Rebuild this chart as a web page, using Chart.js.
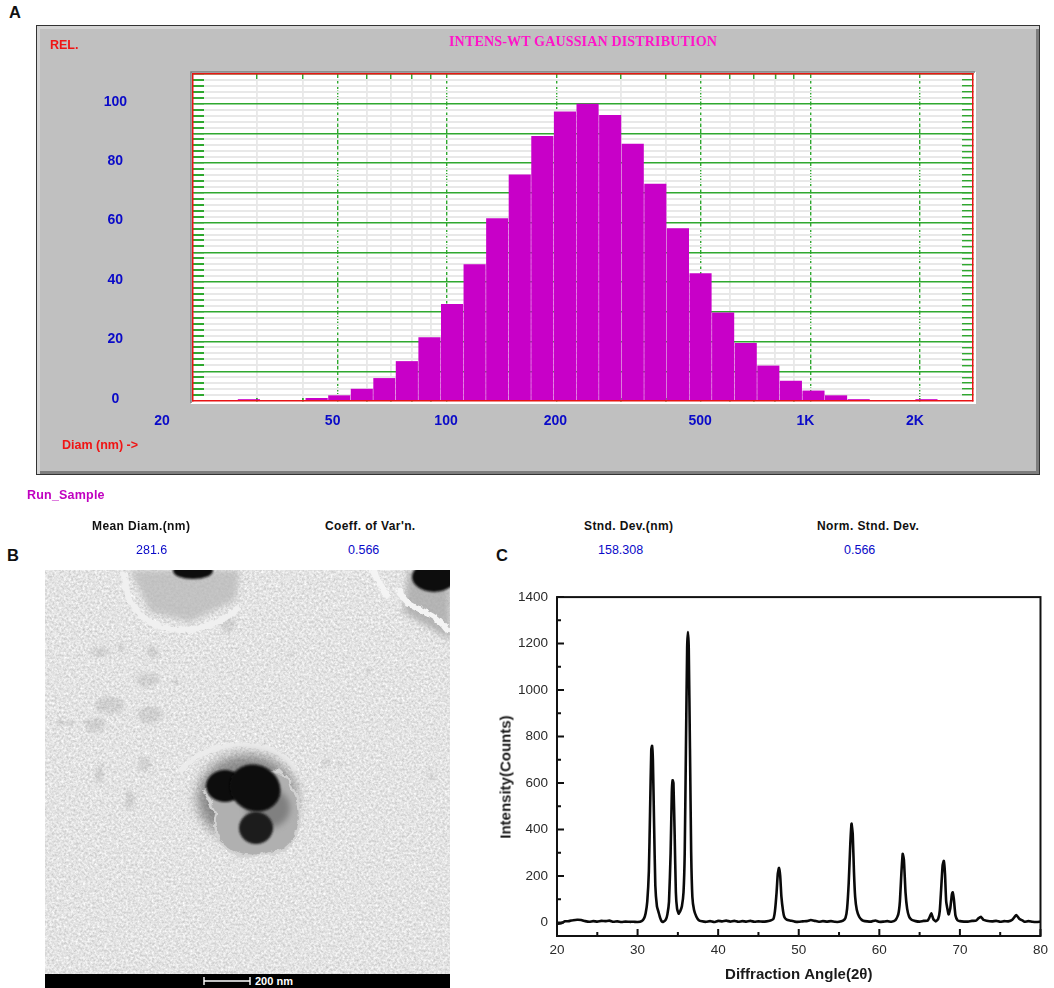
<!DOCTYPE html>
<html>
<head>
<meta charset="utf-8">
<title>Particle size, TEM and XRD</title>
<script src="https://cdn.jsdelivr.net/npm/chart.js@4"></script>
<style>
  html, body { margin: 0; padding: 0; background: #fff; overflow: hidden; }
  #page { position: relative; width: 1054px; height: 988px; overflow: hidden; font-family: "Liberation Sans", sans-serif; }
  canvas { position: absolute; }
  .t { position: absolute; white-space: nowrap; line-height: 14px; font-size: 12.5px; }
  .head { color: #111; font-weight: bold; font-size: 12px; letter-spacing: .4px; }
  .val { color: #0a0ac8; font-size: 12.5px; }
  .red { color: #f01414; font-weight: bold; font-size: 12.5px; }
  .letter { font-size: 16.5px; font-weight: bold; color: #111; line-height: 18px; }
  #panelA { position: absolute; left: 36px; top: 25px; width: 1002px; height: 448px; background: #c0c0c0; border: 1px solid #333;
    box-shadow: inset 3px 3px 0 #d4d4d4, inset -3px -3px 0 #7d7d7d; }
</style>
</head>
<body>
<div id="page">
  <div id="panelA"></div>
  <canvas id="chartA" width="1002" height="449" style="left:37px;top:26px"></canvas>
  <canvas id="chartC" width="564" height="408" style="left:490px;top:580px;filter:blur(.35px)"></canvas>

  <svg style="position:absolute;left:45px;top:570px" width="405" height="418" viewBox="45 570 405 418">
    <defs>
      <filter id="grain" x="0" y="0" width="100%" height="100%" color-interpolation-filters="sRGB">
        <feTurbulence type="fractalNoise" baseFrequency="0.42" numOctaves="3" seed="7"/>
        <feColorMatrix type="matrix" values="0.3 0 0 0 0.74  0.3 0 0 0 0.74  0.3 0 0 0 0.74  0 0 0 0 1"/>
      </filter>
      <filter id="soft"><feGaussianBlur stdDeviation="1.2"/></filter>
      <filter id="soft3" x="-40%" y="-40%" width="180%" height="180%"><feGaussianBlur stdDeviation="3"/></filter>
      <filter id="soft6" x="-40%" y="-40%" width="180%" height="180%"><feGaussianBlur stdDeviation="6"/></filter>
      <filter id="rough" x="-15%" y="-25%" width="130%" height="150%" color-interpolation-filters="sRGB">
        <feTurbulence type="fractalNoise" baseFrequency="0.09" numOctaves="3" seed="3"/>
        <feDisplacementMap in="SourceGraphic" scale="9" xChannelSelector="R" yChannelSelector="G"/>
        <feGaussianBlur stdDeviation=".6"/>
      </filter>
      <filter id="crumb" x="-15%" y="-25%" width="130%" height="150%" color-interpolation-filters="sRGB">
        <feTurbulence type="fractalNoise" baseFrequency="0.2" numOctaves="2" seed="11"/>
        <feDisplacementMap in="SourceGraphic" scale="5" xChannelSelector="R" yChannelSelector="G"/>
        <feGaussianBlur stdDeviation=".5"/>
      </filter>
      <filter id="dirt" x="-30%" y="-30%" width="160%" height="160%" color-interpolation-filters="sRGB">
        <feTurbulence type="fractalNoise" baseFrequency="0.25" numOctaves="2" seed="5"/>
        <feDisplacementMap in="SourceGraphic" scale="8" xChannelSelector="R" yChannelSelector="G"/>
        <feGaussianBlur stdDeviation="1.4"/>
      </filter>
      <clipPath id="photo"><rect x="45" y="570" width="405" height="404"/></clipPath>
    </defs>
    <g clip-path="url(#photo)">
      <rect x="45" y="570" width="405" height="404" filter="url(#grain)"/>
      <!-- debris -->
      <g fill="#8a8a8a" opacity=".22" filter="url(#dirt)">
        <ellipse cx="153" cy="652" rx="6" ry="7"/><ellipse cx="121" cy="647" rx="4" ry="5"/>
        <ellipse cx="100" cy="652" rx="9" ry="5"/><ellipse cx="175" cy="682" rx="3" ry="3"/>
        <ellipse cx="110" cy="705" rx="14" ry="9"/><ellipse cx="95" cy="725" rx="10" ry="7"/>
        <ellipse cx="65" cy="723" rx="9" ry="3"/><ellipse cx="145" cy="765" rx="6" ry="7"/>
        <ellipse cx="100" cy="775" rx="4" ry="9"/><ellipse cx="130" cy="800" rx="5" ry="10"/>
        <ellipse cx="326" cy="762" rx="4" ry="3"/><ellipse cx="340" cy="764" rx="3" ry="2"/>
        <ellipse cx="228" cy="625" rx="8" ry="8"/><ellipse cx="368" cy="672" rx="3" ry="3"/>
        <ellipse cx="290" cy="654" rx="3" ry="3"/><ellipse cx="432" cy="775" rx="4" ry="3"/>
        <ellipse cx="150" cy="715" rx="12" ry="9"/><ellipse cx="148" cy="680" rx="12" ry="7"/>
      </g>
      <!-- top grain -->
      <path d="M130 570 L240 570 L236 600 L190 622 L150 612 Z" fill="#b8b8b8" opacity=".75" filter="url(#soft3)"/>
      <ellipse cx="193" cy="571" rx="20" ry="8" fill="#111" filter="url(#soft)"/>
      <path d="M124 572 C125 610 148 628 180 630 C205 630 225 620 240 607" fill="none" stroke="#f0f0f0" stroke-width="6" filter="url(#crumb)"/>
      <!-- top right grain -->
      <path d="M408 570 L450 570 L450 640 L403 612 Z" fill="#a9a9a9" opacity=".8" filter="url(#soft3)"/>
      <ellipse cx="434" cy="577" rx="22" ry="15" fill="#0c0c0c" filter="url(#soft)"/>
      <path d="M372 570 L388 597 M400 588 C402 612 430 605 449 632" fill="none" stroke="#f4f4f4" stroke-width="6" filter="url(#crumb)"/>
      <!-- central grain -->
      <path d="M180 772 C195 750 225 745 240 745 C265 745 285 752 296 771" fill="none" stroke="#ececec" stroke-width="5" filter="url(#crumb)"/>
      <ellipse cx="247" cy="798" rx="50" ry="44" fill="#666" opacity=".7" filter="url(#soft6)"/>
      <path d="M204 790 L240 772 L282 772 C296 785 302 810 298 828 C294 845 282 855 270 852 C258 858 240 858 228 848 C214 842 212 826 216 812 Z" fill="#b0b0b0" stroke="#d2d2d2" stroke-width="3" filter="url(#rough)"/>
      <ellipse cx="268" cy="808" rx="22" ry="20" fill="#6c6c6c" opacity=".7" filter="url(#soft3)"/>
      <ellipse cx="225" cy="786" rx="19" ry="16" fill="#0e0e0e" filter="url(#soft)"/>
      <ellipse cx="255" cy="788" rx="26" ry="23" fill="#080808" transform="rotate(25 255 788)" filter="url(#soft)"/>
      <ellipse cx="256" cy="828" rx="17" ry="16" fill="#1a1a1a" filter="url(#soft)"/>
    </g>
    <rect x="45" y="974" width="405" height="14" fill="#000"/>
    <path d="M204 981 H250 M204 977 V985 M250 977 V985" stroke="#fff" stroke-width="1.4" fill="none"/>
    <text x="255" y="985" fill="#fff" font-family="Liberation Sans" font-weight="bold" font-size="11">200 nm</text>
  </svg>

  <div class="t letter" style="left:9px;top:3px">A</div>
  <div class="t letter" style="left:7px;top:546px">B</div>
  <div class="t letter" style="left:496px;top:546px">C</div>

  <div class="t red" style="left:50px;top:38px">REL.</div>
  <div class="t" style="left:449px;top:35px;color:#ff14c8;font:bold 14px/14px 'Liberation Serif';letter-spacing:.17px">INTENS-WT GAUSSIAN DISTRIBUTION</div>
  <div class="t red" style="left:62px;top:438px">Diam (nm) -&gt;</div>
  <div class="t" style="left:27px;top:488px;color:#c000c0;font-weight:bold;letter-spacing:.2px">Run_Sample</div>

  <div class="t head" style="left:92px;top:519px">Mean Diam.(nm)</div>
  <div class="t val" style="left:136px;top:543px">281.6</div>
  <div class="t head" style="left:325px;top:519px">Coeff. of Var'n.</div>
  <div class="t val" style="left:348px;top:543px">0.566</div>
  <div class="t head" style="left:584px;top:519px">Stnd. Dev.(nm)</div>
  <div class="t val" style="left:598px;top:543px">158.308</div>
  <div class="t head" style="left:817px;top:519px">Norm. Stnd. Dev.</div>
  <div class="t val" style="left:844px;top:543px">0.566</div>

  <div class="t" style="left:505px;top:777px;color:#1a1a1a;font:bold 15px/15px 'Liberation Sans';transform:translate(-50%,-50%) rotate(-90deg)">Intensity(Counts)</div>
</div>

<script>
// panel A: intensity weighted size distribution
const diamBins = [28.5, 32.9, 37.9, 43.8, 50.5, 58.3, 67.2, 77.5, 89.5, 103.2, 119.1, 137.4, 158.5, 182.9, 211.1, 243.6, 281.1, 324.3, 374.2, 431.8, 498.3, 575, 663.5, 765.6, 883.4, 1019, 1176, 1357, 1566, 1807, 2085];
const relIntensity = [0.5, 0, 0, 0.9, 1.8, 4, 7.6, 13.3, 21.3, 32.5, 45.9, 61.4, 76.1, 89, 97.3, 99.9, 96.1, 86.4, 73, 58, 42.9, 29.7, 19.4, 11.8, 6.7, 3.4, 1.8, 0.5, 0, 0, 0.5];
const diamMajor = [50, 100, 200, 500, 1000, 2000];
const diamMinor = [30, 40, 60, 70, 80, 90, 300, 400, 600, 700, 800, 900];
const diamTickValues = [20, 50, 100, 200, 500, 1000, 2000];
const diamTickLabels = ["20", "50", "100", "200", "500", "1K", "2K"];

// panel C: XRD pattern
const xrdAngle = [20, 20.5, 21, 21.5, 22, 22.5, 23, 23.5, 24, 24.5, 25, 25.5, 26, 26.5, 27, 27.5, 28, 28.5, 29, 29.5, 30, 30.5, 30.8, 31, 31.2, 31.4, 31.55, 31.7, 31.8, 31.9, 32.05, 32.2, 32.4, 32.6, 32.8, 33, 33.2, 33.5, 33.7, 33.9, 34.1, 34.25, 34.35, 34.45, 34.6, 34.75, 34.9, 35.1, 35.3, 35.5, 35.7, 35.85, 36, 36.15, 36.25, 36.35, 36.5, 36.65, 36.8, 37, 37.3, 37.6, 38, 38.5, 39, 39.5, 40, 40.5, 41, 41.5, 42, 42.5, 43, 43.5, 44, 44.5, 45, 45.5, 46, 46.5, 46.85, 47.05, 47.25, 47.4, 47.55, 47.7, 47.85, 48.05, 48.2, 48.5, 49, 49.5, 50, 50.5, 51, 51.5, 52, 52.5, 53, 53.5, 54, 54.5, 55, 55.5, 55.8, 56, 56.2, 56.4, 56.55, 56.7, 56.85, 57, 57.2, 57.5, 57.8, 58, 58.5, 59, 59.5, 60, 60.5, 61, 61.5, 62, 62.35, 62.55, 62.75, 62.9, 63.05, 63.25, 63.45, 63.7, 64, 64.5, 65, 65.5, 66, 66.2, 66.45, 66.7, 67, 67.3, 67.5, 67.7, 67.85, 68, 68.15, 68.3, 68.6, 68.8, 69, 69.1, 69.25, 69.45, 69.7, 70, 70.5, 71, 71.5, 72, 72.3, 72.6, 72.9, 73.3, 74, 74.5, 75, 75.5, 76, 76.5, 77, 77.4, 77.8, 78, 78.5, 79, 79.5, 80];
const xrdCounts = [-5, -3, 5, 6, 10, 12, 11, 6, 3, 6, 4, 7, 6, 8, 3, 5, 2, 4, 3, 3, 2, 6, 18, 40, 90, 220, 480, 745, 760, 700, 420, 160, 70, 45, 20, 5, 3, 12, 35, 90, 300, 560, 612, 600, 380, 130, 60, 38, 50, 70, 130, 300, 750, 1180, 1250, 1180, 750, 300, 110, 55, 25, 10, 5, 3, 6, 2, 7, 5, 8, 4, 7, 3, 6, 4, 7, 3, 5, 4, 5, 9, 15, 50, 130, 210, 235, 200, 110, 50, 25, 12, 8, 4, 3, 5, 6, 11, 7, 3, 6, 4, 6, 3, 3, 8, 20, 60, 170, 340, 425, 380, 220, 110, 55, 25, 12, 8, 5, 4, 9, 3, 4, 6, 3, 10, 35, 90, 220, 295, 270, 130, 60, 25, 12, 6, 4, 7, 8, 20, 40, 15, 5, 15, 50, 160, 245, 265, 210, 90, 35, 60, 120, 130, 100, 30, 10, 6, 4, 4, 7, 8, 18, 25, 12, 8, 5, 7, 3, 6, 5, 12, 32, 15, 8, 3, 6, 3, 2, 4];
const countTickLabels = [0, 200, 400, 600, 800, 1000, 1200, 1400];
const angleTickLabels = [20, 30, 40, 50, 60, 70, 80];

const GREEN = "#2fa82f";
const RED = "#e81414";
const PALE = "#e8e8e8";
const BLUE = "#0a0ac8";

// horizontal rule colour, nothing at the red base line
const yRuleColor = (c) => {
  if (c.tick.value === 0) return "rgba(0,0,0,0)";
  return c.tick.value % 10 === 0 ? GREEN : PALE;
};
const yTickColor = (c) => (c.tick.value === 0 ? "rgba(0,0,0,0)" : GREEN);

// white plot background with the raised edge
const plotBack = {
  id: "plotBack",
  beforeDraw(chart) {
    const { ctx, chartArea: a } = chart;
    ctx.save();
    ctx.fillStyle = "#fff";
    ctx.fillRect(a.left - 2, a.top - 2, a.width + 5, a.height + 5);
    ctx.strokeStyle = "#7d7d7d";
    ctx.lineWidth = 1.5;
    ctx.beginPath();
    ctx.moveTo(a.left - 2, a.bottom + 2);
    ctx.lineTo(a.left - 2, a.top - 2);
    ctx.lineTo(a.right + 2, a.top - 2);
    ctx.stroke();
    ctx.restore();
  },
};

// the x labels in the original sit left of their grid lines, "20" far left
const shiftedDiamLabels = {
  id: "shiftedDiamLabels",
  afterDraw(chart) {
    const { ctx, scales } = chart;
    const nudge = { 20: -31, 50: -5, 100: -1, 200: -1, 500: -1, 1000: -5, 2000: -5 };
    ctx.save();
    ctx.font = "bold 14px 'Liberation Sans'";
    ctx.fillStyle = BLUE;
    ctx.textAlign = "center";
    ctx.textBaseline = "middle";
    diamTickValues.forEach((v, i) => {
      ctx.fillText(diamTickLabels[i], scales.x.getPixelForValue(v) + nudge[v], 395);
    });
    ctx.restore();
  },
};

const distChart = new Chart(document.getElementById("chartA").getContext("2d"), {
  type: "bar",
  data: {
    datasets: [
      {
        data: diamBins.map((d, i) => ({ x: d, y: relIntensity[i] })),
        backgroundColor: "#c800c8",
        borderWidth: 0,
        barThickness: "flex", // the default fit would shrink to the closest grid lines
        barPercentage: 0.95,
        categoryPercentage: 1,
      },
    ],
  },
  plugins: [plotBack, shiftedDiamLabels],
  options: {
    responsive: false,
    animation: false,
    layout: { padding: 0 },
    plugins: { legend: { display: false }, tooltip: { enabled: false } },
    scales: {
      x: {
        type: "logarithmic",
        min: 20,
        max: 2800,
        offset: false,
        afterBuildTicks: (s) => { s.ticks = diamMajor.concat(diamMinor).map((v) => ({ value: v })); },
        afterFit: (s) => { s.height = 74; },
        ticks: { display: false, autoSkip: false },
        border: { color: RED, width: 1.5, z: 1, dash: (c) => (diamMajor.includes(c.tick && c.tick.value) ? [4, 1.5] : []) },
        grid: {
          offset: false,
          color: (c) => (diamMajor.includes(c.tick.value) ? GREEN : PALE),
          lineWidth: (c) => (diamMajor.includes(c.tick.value) ? 1.4 : 1.8),
          tickColor: GREEN,
          tickLength: -3,
        },
      },
      xTop: {
        type: "logarithmic",
        position: "top",
        min: 20,
        max: 2800,
        offset: false,
        afterBuildTicks: (s) => { s.ticks = diamMinor.map((v) => ({ value: v })); },
        afterFit: (s) => { s.height = 48; },
        ticks: { display: false, autoSkip: false },
        border: { color: RED, width: 1.5 },
        grid: { offset: false, drawOnChartArea: false, tickColor: GREEN, tickLength: -5, lineWidth: 1.4 },
      },
      y: {
        min: 0,
        max: 110,
        // the big label padding must not eat into the plot height
        afterFit: (s) => { s.width = 156; s.paddingTop = 0; s.paddingBottom = 0; },
        ticks: {
          stepSize: 2,
          autoSkip: false,
          crossAlign: "center",
          padding: 77,
          labelOffset: -2,
          color: BLUE,
          font: { family: "Liberation Sans", weight: "bold", size: 14 },
          callback: (v) => (v % 20 === 0 ? v : ""),
        },
        border: { color: RED, width: 1.5 },
        grid: {
          color: yRuleColor,
          lineWidth: (c) => (c.tick.value % 10 === 0 ? 1.4 : 2),
          tickColor: yTickColor,
          tickLength: -11,
        },
      },
      yRight: {
        position: "right",
        min: 0,
        max: 110,
        afterFit: (s) => { s.width = 66; s.paddingTop = 0; s.paddingBottom = 0; },
        ticks: { display: false, stepSize: 2, autoSkip: false },
        border: { color: RED, width: 1.5 },
        grid: { drawOnChartArea: false, tickColor: yTickColor, tickLength: -11, lineWidth: 1.4 },
      },
    },
  },
});

// black box with inward tick marks
const xrdFrame = {
  id: "xrdFrame",
  afterDraw(chart) {
    const { ctx, chartArea: a, scales } = chart;
    ctx.save();
    ctx.strokeStyle = "#111";
    ctx.lineWidth = 2;
    ctx.strokeRect(a.left, a.top, a.width, a.height);
    ctx.beginPath();
    scales.x.ticks.forEach((t) => {
      const px = scales.x.getPixelForValue(t.value);
      ctx.moveTo(px, a.bottom);
      ctx.lineTo(px, a.bottom - (t.value % 10 === 0 ? 7 : 4));
    });
    scales.y.ticks.forEach((t) => {
      const py = scales.y.getPixelForValue(t.value);
      ctx.moveTo(a.left, py);
      ctx.lineTo(a.left + (t.value % 200 === 0 ? 7 : 4), py);
    });
    ctx.stroke();
    ctx.restore();
  },
};

const xrdChart = new Chart(document.getElementById("chartC").getContext("2d"), {
  type: "line",
  data: {
    datasets: [
      {
        data: xrdAngle.map((a, i) => ({ x: a, y: xrdCounts[i] })),
        borderColor: "#0a0a0a",
        borderWidth: 2.6,
        pointRadius: 0,
        tension: 0.15,
      },
    ],
  },
  plugins: [xrdFrame],
  options: {
    responsive: false,
    animation: false,
    layout: { padding: { top: 17, right: 11 } },
    plugins: { legend: { display: false }, tooltip: { enabled: false } },
    scales: {
      x: {
        type: "linear",
        min: 20,
        max: 80,
        afterFit: (s) => { s.height = 52; },
        grid: { display: false, drawTicks: false },
        border: { display: false },
        ticks: {
          stepSize: 5,
          autoSkip: false,
          maxRotation: 0,
          padding: 6,
          color: "#2a2a2a",
          font: { family: "Liberation Sans", size: 13.5 },
          callback: (v) => (angleTickLabels.includes(v) ? v : ""),
        },
        title: {
          display: true,
          text: "Diffraction Angle(2θ)",
          color: "#1a1a1a",
          font: { family: "Liberation Sans", weight: "bold", size: 15 },
          padding: { top: 0, bottom: 4 },
        },
      },
      y: {
        min: -58,
        max: 1400,
        afterFit: (s) => { s.width = 67; },
        grid: { display: false, drawTicks: false },
        border: { display: false },
        ticks: {
          stepSize: 100,
          includeBounds: false,
          autoSkip: false,
          padding: 9,
          color: "#2a2a2a",
          font: { family: "Liberation Sans", size: 13.5 },
          callback: (v) => (countTickLabels.includes(v) ? v : ""),
        },
      },
    },
  },
});
</script>
</body>
</html>
